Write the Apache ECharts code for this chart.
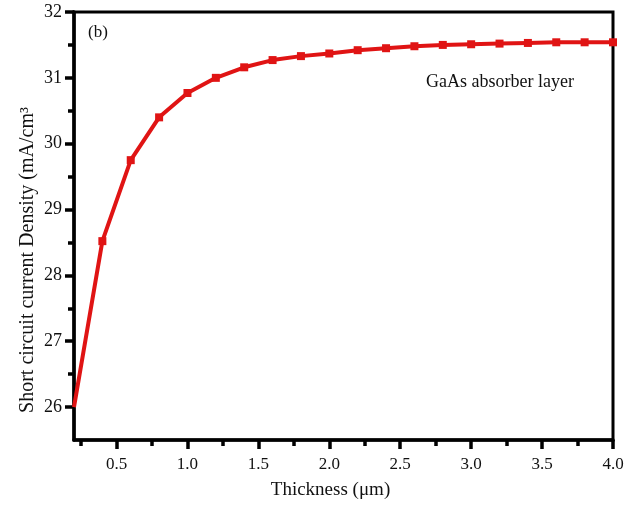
<!DOCTYPE html>
<html>
<head>
<meta charset="utf-8">
<script src="https://cdn.jsdelivr.net/npm/echarts@6/dist/echarts.min.js"></script>
<style>
  html, body { margin: 0; padding: 0; background: #fff; }
  #chart { width: 639px; height: 508px; }
</style>
</head>
<body>
<div id="chart"></div>
<script>
// Absorber thickness (µm) and short circuit current density (mA/cm²)
const thickness = [0.2, 0.4, 0.6, 0.8, 1.0, 1.2, 1.4, 1.6, 1.8, 2.0,
                   2.2, 2.4, 2.6, 2.8, 3.0, 3.2, 3.4, 3.6, 3.8, 4.0];
const jsc = [26.00, 28.52, 29.75, 30.40, 30.77, 31.00, 31.16, 31.27, 31.33, 31.37,
             31.42, 31.45, 31.48, 31.50, 31.51, 31.52, 31.53, 31.54, 31.54, 31.54];

// Tick positions
const xMajor = [0.5, 1.0, 1.5, 2.0, 2.5, 3.0, 3.5, 4.0];
const xMinor = [0.25, 0.75, 1.25, 1.75, 2.25, 2.75, 3.25, 3.75];
const yMajor = [26, 27, 28, 29, 30, 31, 32];
const yMinor = [26.5, 27.5, 28.5, 29.5, 30.5, 31.5];

const FONT = 'Liberation Serif';
const chart = echarts.init(document.getElementById('chart'));

const baseX = { type: 'value', min: 0.2, max: 4.0, position: 'bottom', splitLine: { show: false } };
const baseY = { type: 'value', min: 25.5, max: 32, position: 'left', splitLine: { show: false } };

// the first point sits on the left axis and carries no marker
const points = thickness.map((t, i) =>
  i === 0 ? { value: [t, jsc[i]], symbol: 'none' } : [t, jsc[i]]);

chart.setOption({
  animation: false,
  backgroundColor: '#fff',
  grid: {
    left: 74, right: 26, top: 12, bottom: 68,
    show: true, borderColor: '#000', borderWidth: 3, backgroundColor: 'transparent'
  },
  xAxis: [
    Object.assign({}, baseX, {
      name: 'Thickness (μm)',
      nameLocation: 'middle',
      nameGap: 41,
      nameMoveOverlap: false,
      nameTextStyle: { fontFamily: FONT, fontSize: 19, color: '#111', padding: [0, 26, 0, 0] },
      axisLine: { onZero: false, lineStyle: { color: '#000', width: 3.5 } },
      axisTick: { customValues: xMajor, length: 9, lineStyle: { color: '#000', width: 3.5 } },
      axisLabel: {
        customValues: xMajor, margin: 16, fontFamily: FONT, fontSize: 17, color: '#111',
        formatter: v => v.toFixed(1)
      }
    }),
    Object.assign({}, baseX, {
      axisLine: { show: false, onZero: false },
      axisTick: { customValues: xMinor, length: 6, lineStyle: { color: '#000', width: 3.5 } },
      axisLabel: { show: false }
    })
  ],
  yAxis: [
    Object.assign({}, baseY, {
      name: 'Short circuit current Density (mA/cm³',
      nameLocation: 'middle',
      nameGap: 36,
      nameMoveOverlap: false,
      nameTextStyle: { fontFamily: FONT, fontSize: 20, color: '#111', padding: [0, 68, 0, 0] },
      axisLine: { onZero: false, lineStyle: { color: '#000', width: 3.5 } },
      axisTick: { customValues: yMajor, length: 9, lineStyle: { color: '#000', width: 3.5 } },
      axisLabel: { customValues: yMajor, margin: 12, fontFamily: FONT, fontSize: 18, color: '#111' }
    }),
    Object.assign({}, baseY, {
      axisLine: { show: false, onZero: false },
      axisTick: { customValues: yMinor, length: 6, lineStyle: { color: '#000', width: 3.5 } },
      axisLabel: { show: false }
    })
  ],
  graphic: [
    { type: 'text', left: 88, top: 24, style: { text: '(b)', font: '17px "Liberation Serif"', fill: '#111' } },
    { type: 'text', left: 426, top: 73, style: { text: 'GaAs absorber layer', font: '18px "Liberation Serif"', fill: '#111' } }
  ],
  series: [{
    type: 'line',
    xAxisIndex: 0,
    yAxisIndex: 0,
    data: points,
    symbol: 'rect',
    symbolSize: 8,
    clip: false,
    lineStyle: { color: '#e01414', width: 4 },
    itemStyle: { color: '#e01414' }
  }]
});
</script>
</body>
</html>
